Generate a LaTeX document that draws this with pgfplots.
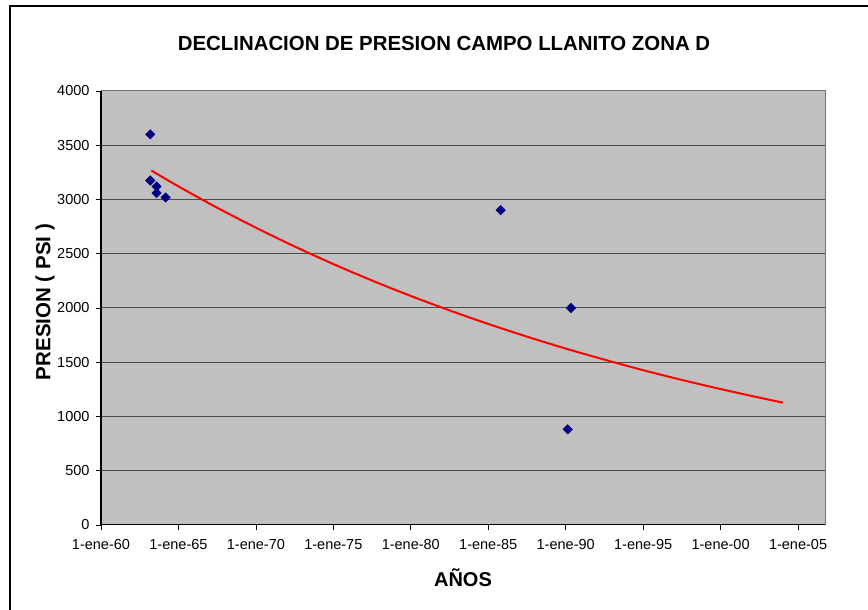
\documentclass[border=0pt]{standalone}
\usepackage{fontspec}
\setmainfont{Liberation Sans}
\usepackage{pgfplots}
\pgfplotsset{compat=1.18}
\definecolor{plotgray}{HTML}{C0C0C0}
\definecolor{navyblue}{HTML}{000080}
\definecolor{trendred}{HTML}{FF0000}
\begin{document}
\begin{tikzpicture}[x=1pt,y=1pt]
\useasboundingbox (0,0) rectangle (868,610);
\fill[white] (0,0) rectangle (868,610);
\draw[line width=2pt] (10,-10) -- (10,604) -- (880,604);
\node[font=\bfseries\fontsize{20.4}{24}\selectfont] at (444,567) {DECLINACION DE PRESION CAMPO LLANITO ZONA D};
\node[font=\bfseries\fontsize{20}{24}\selectfont] at (463,32) {AÑOS};
\node[font=\bfseries\fontsize{20.5}{24}\selectfont, rotate=90] at (45,308) {PRESION ( PSI )};
\begin{axis}[
  at={(101pt,85pt)}, anchor=south west, scale only axis,
  width=724pt, height=434pt,
  xmin=1960, xmax=2006.74, ymin=0, ymax=4000,
  clip=false,
  axis background/.style={fill=plotgray},
  axis line style={draw=none},
  xtick={1960,1965,1970,1975,1980,1985,1990,1995,2000,2005},
  xticklabels={1-ene-60,1-ene-65,1-ene-70,1-ene-75,1-ene-80,1-ene-85,1-ene-90,1-ene-95,1-ene-00,1-ene-05},
  ytick={0,500,1000,1500,2000,2500,3000,3500,4000},
  xtick pos=lower, ytick pos=left,
  tick align=outside, major tick length=5pt,
  tick style={black, line width=0.8pt},
  ymajorgrids, grid style={black!70, line width=1pt},
  /pgf/number format/assume math mode=true,
  /pgf/number format/1000 sep={},
  ticklabel style={font=\fontsize{14.5}{16}\selectfont},
  xticklabel style={yshift=-6pt},
  yticklabel style={xshift=-3pt},
]
\addplot[only marks, mark=square*, mark size=3.36pt,
  mark options={rotate=45, fill=navyblue, draw=navyblue}] coordinates {
  (1963.18,3600) (1963.18,3175) (1963.59,3120) (1963.59,3059) (1964.17,3018)
  (1985.80,2902) (1990.34,2000) (1990.13,882)
};
\addplot[trendred, line width=2pt, no marks, smooth] coordinates {
  (1963.25,3267) (1965,3121) (1967.5,2924) (1970,2740) (1972.5,2567)
  (1975,2405) (1977.5,2253) (1980,2111) (1982.5,1978) (1985,1853)
  (1987.5,1736) (1990,1626) (1992.5,1524) (1995,1427) (1997.5,1337)
  (2000,1253) (2002.5,1174) (2004.02,1128)
};
\draw[black!55, line width=1pt] (rel axis cs:0,1) -- (rel axis cs:1,1) -- (rel axis cs:1,0);
\draw[black, line width=1pt] (rel axis cs:0,1) -- (rel axis cs:0,0) -- (rel axis cs:1,0);
\end{axis}
\end{tikzpicture}
\end{document}
